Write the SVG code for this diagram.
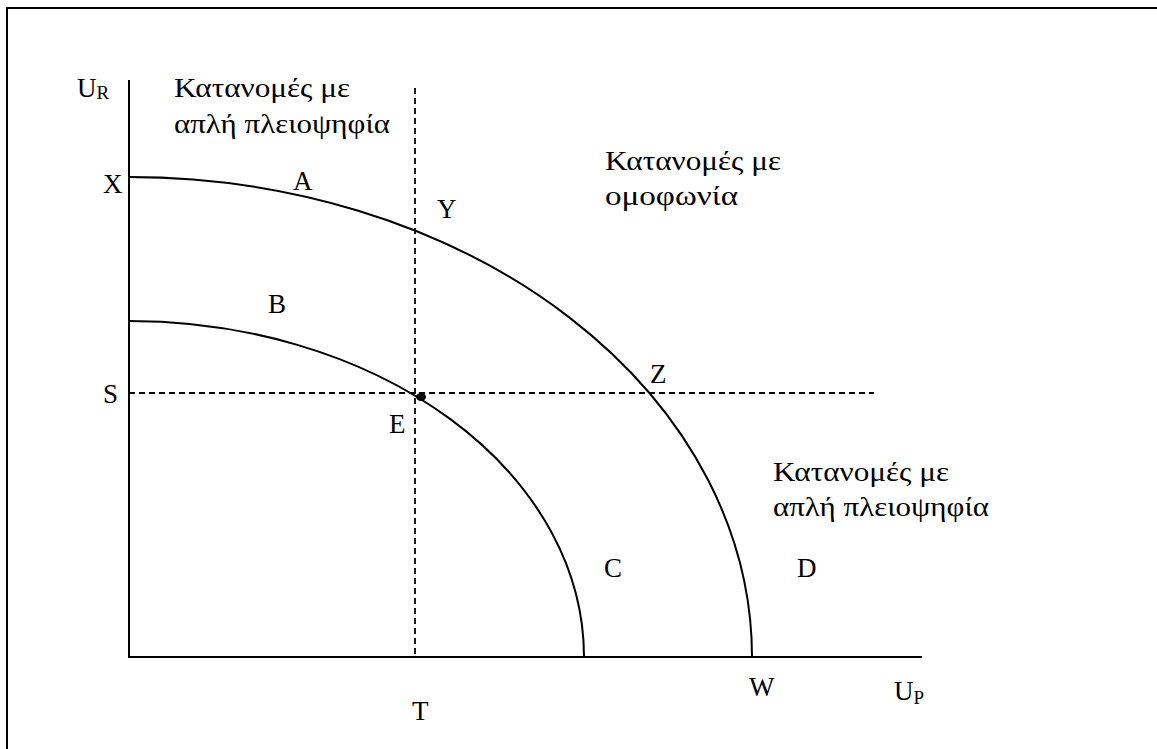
<svg xmlns="http://www.w3.org/2000/svg" width="1157" height="749" viewBox="0 0 1157 749">
<style>
text{font-family:'Liberation Serif','Times New Roman',Times,serif;font-size:27px;fill:#000}
.sub{font-size:19px}
.gr{font-size:28px}
.ax{stroke:#000;stroke-width:2;fill:none}
.cv{stroke:#000;stroke-width:2;fill:none}
.dash{stroke:#000;stroke-width:1.8;stroke-dasharray:6 4;fill:none}
</style>
<rect x="7" y="8" width="1170" height="780" fill="#fff" stroke="#000" stroke-width="2"/>
<g id="connectors">
<line class="ax" x1="129" y1="80" x2="129" y2="658"/>
<line class="ax" x1="128" y1="657" x2="922" y2="657"/>
<line class="dash" x1="415" y1="88" x2="415" y2="657"/>
<line class="dash" x1="129" y1="393" x2="874" y2="393"/>
<path class="cv" d="M129,177 A623,480 0 0 1 752,657"/>
<path class="cv" d="M129,321 A455,336 0 0 1 584,657"/>
</g>
<g id="axis-labels">
<text x="77" y="97">U<tspan class="sub" dy="2">R</tspan></text>
<text x="894" y="700">U<tspan class="sub" dy="4">P</tspan></text>
</g>
<g id="point-E">
<ellipse cx="421" cy="397" rx="5" ry="4" fill="#000"/>
<text x="389" y="433">E</text>
</g>
<g id="labels">
<text x="103" y="193">X</text>
<text x="293" y="190">A</text>
<text x="437" y="218">Y</text>
<text x="268" y="313">B</text>
<text x="650" y="383">Z</text>
<text x="103" y="403">S</text>
<text x="604" y="577">C</text>
<text x="797" y="577">D</text>
<text x="412" y="720">T</text>
<text x="749" y="696">W</text>
</g>
<g id="region-top-left">
<text class="gr" x="174" y="97" textLength="176" lengthAdjust="spacingAndGlyphs">Κατανομές με</text>
<text class="gr" x="174" y="133" textLength="216" lengthAdjust="spacingAndGlyphs">απλή πλειοψηφία</text>
</g>
<g id="region-top-right">
<text class="gr" x="605" y="170" textLength="176" lengthAdjust="spacingAndGlyphs">Κατανομές με</text>
<text class="gr" x="605" y="205" textLength="133" lengthAdjust="spacingAndGlyphs">ομοφωνία</text>
</g>
<g id="region-bottom-right">
<text class="gr" x="773" y="481" textLength="176" lengthAdjust="spacingAndGlyphs">Κατανομές με</text>
<text class="gr" x="773" y="516" textLength="216" lengthAdjust="spacingAndGlyphs">απλή πλειοψηφία</text>
</g>
</svg>
